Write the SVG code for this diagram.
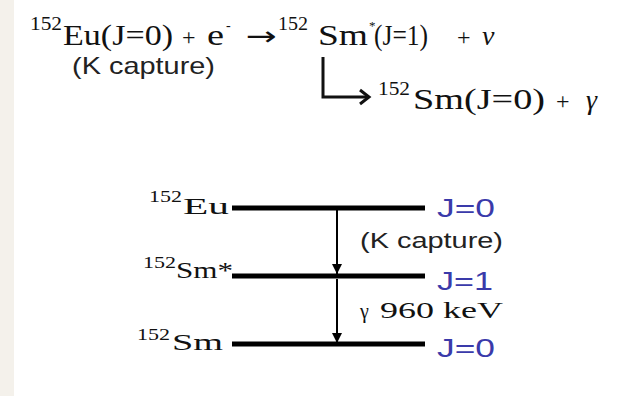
<svg xmlns="http://www.w3.org/2000/svg" width="621" height="396" viewBox="0 0 621 396">
<defs>
<style>
.serif{font-family:"Liberation Serif","DejaVu Serif",serif;fill:#111}
.sans{font-family:"Liberation Sans",Arial,sans-serif;fill:#222}
.blue{font-family:"Liberation Sans",Arial,sans-serif;fill:#3a3aaa;font-size:25px}
.lvl{stroke:#000;stroke-width:5;fill:none}
.conn{stroke:#000;stroke-width:2;fill:none}
</style>
<marker id="tri" viewBox="0 0 10 10" refX="10" refY="5" markerWidth="5" markerHeight="5" orient="auto" markerUnits="strokeWidth">
<path d="M0,0 L10,5 L0,10 z" fill="#000"/>
</marker>
</defs>
<rect x="0" y="0" width="621" height="396" fill="#fff"/>
<rect x="0" y="0" width="14" height="396" fill="#f4f1eb"/>

<g id="equation">
<text class="serif" x="30" y="30" font-size="19" textLength="32" lengthAdjust="spacingAndGlyphs">152</text>
<text class="serif" x="63" y="45" font-size="30" textLength="110" lengthAdjust="spacingAndGlyphs">Eu(J=0)</text>
<text class="serif" x="182" y="45" font-size="24">+</text>
<text class="serif" x="207" y="45" font-size="30" textLength="17" lengthAdjust="spacingAndGlyphs">e</text>
<text class="serif" x="226" y="30" font-size="14">-</text>
<text x="246" y="45" font-size="26" font-family="DejaVu Sans, sans-serif" fill="#111" textLength="31" lengthAdjust="spacingAndGlyphs">→</text>
<text class="serif" x="278" y="30" font-size="19" textLength="30" lengthAdjust="spacingAndGlyphs">152</text>
<text class="serif" x="318" y="45" font-size="30" textLength="50" lengthAdjust="spacingAndGlyphs">Sm</text>
<text class="serif" x="369" y="30" font-size="13">*</text>
<text class="serif" x="374" y="45" font-size="30" textLength="54" lengthAdjust="spacingAndGlyphs">(J=1)</text>
<text class="serif" x="457" y="45" font-size="24">+</text>
<text class="serif" x="482" y="45" font-size="28" font-style="italic">ν</text>
<text class="sans" x="72" y="74" font-size="24" textLength="143" lengthAdjust="spacingAndGlyphs">(K capture)</text>
<text class="serif" x="378" y="95" font-size="19" textLength="32" lengthAdjust="spacingAndGlyphs">152</text>
<text class="serif" x="413" y="109" font-size="30" textLength="132" lengthAdjust="spacingAndGlyphs">Sm(J=0)</text>
<text class="serif" x="556" y="109" font-size="24">+</text>
<text class="serif" x="586" y="109" font-size="28" font-style="italic">γ</text>
</g>

<g id="level-eu">
<line class="lvl" x1="232" y1="208" x2="425" y2="208"/>
<text class="serif" x="149" y="202" font-size="17" textLength="33" lengthAdjust="spacingAndGlyphs">152</text>
<text class="serif" x="183" y="214" font-size="24" textLength="46" lengthAdjust="spacingAndGlyphs">Eu</text>
<text class="blue" x="437" y="217" textLength="58" lengthAdjust="spacingAndGlyphs">J=0</text>
</g>

<g id="level-sm-star">
<line class="lvl" x1="232" y1="276" x2="425" y2="276"/>
<text class="serif" x="143" y="268" font-size="17" textLength="33" lengthAdjust="spacingAndGlyphs">152</text>
<text class="serif" x="176" y="278" font-size="24" textLength="57" lengthAdjust="spacingAndGlyphs">Sm*</text>
<text class="blue" x="437" y="290" textLength="56" lengthAdjust="spacingAndGlyphs">J=1</text>
</g>

<g id="level-sm">
<line class="lvl" x1="232" y1="344" x2="425" y2="344"/>
<text class="serif" x="137" y="340" font-size="17" textLength="33" lengthAdjust="spacingAndGlyphs">152</text>
<text class="serif" x="172" y="350" font-size="24" textLength="51" lengthAdjust="spacingAndGlyphs">Sm</text>
<text class="blue" x="437" y="357" textLength="58" lengthAdjust="spacingAndGlyphs">J=0</text>
</g>

<g id="connectors">
<path d="M323,57 V97 H368" fill="none" stroke="#111" stroke-width="3"/>
<path d="M360,90 L369,97 L360,104" fill="none" stroke="#111" stroke-width="3"/>
<line class="conn" x1="337" y1="210" x2="337" y2="274" marker-end="url(#tri)"/>
<line class="conn" x1="337" y1="279" x2="337" y2="343" marker-end="url(#tri)"/>
<text class="sans" x="360" y="248" font-size="22" textLength="143" lengthAdjust="spacingAndGlyphs">(K capture)</text>
<text class="serif" x="360" y="318" font-size="20">γ</text>
<text class="serif" x="380" y="318" font-size="24" textLength="123" lengthAdjust="spacingAndGlyphs">960 keV</text>
</g>
</svg>
